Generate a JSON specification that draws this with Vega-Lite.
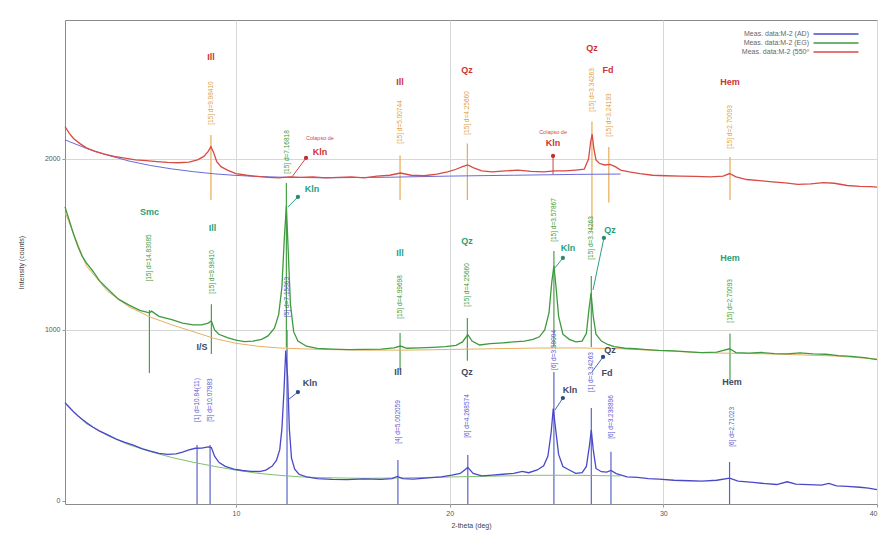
{
"$schema":"https://vega.github.io/schema/vega-lite/v6.json",
"width":812,"height":484,
"autosize":{"type":"none"},
"padding":{"left":65,"top":20,"right":11,"bottom":34},
"background":"white",
"config":{
 "view":{"stroke":"#8a8a8a","strokeWidth":1},
 "font":"Liberation Sans",
 "axis":{"labelFontSize":7,"labelColor":"#555","titleFontSize":7,"titleFontWeight":"normal","titleColor":"#444","domain":false,"tickColor":"#999","tickSize":3,"labelPadding":2}
},
"datasets":{
"curves":[
{"x":2,"y":575,"s":"AD"},{"x":2.2,"y":548,"s":"AD"},{"x":2.4,"y":522,"s":"AD"},{"x":2.6,"y":498,"s":"AD"},{"x":2.8,"y":478,"s":"AD"},{"x":3,"y":458,"s":"AD"},{"x":3.3,"y":432,"s":"AD"},{"x":3.6,"y":410,"s":"AD"},{"x":4,"y":386,"s":"AD"},{"x":4.4,"y":362,"s":"AD"},{"x":4.8,"y":343,"s":"AD"},{"x":5.2,"y":326,"s":"AD"},{"x":5.6,"y":306,"s":"AD"},{"x":6,"y":292,"s":"AD"},{"x":6.4,"y":278,"s":"AD"},{"x":6.8,"y":272,"s":"AD"},{"x":7.2,"y":275,"s":"AD"},{"x":7.5,"y":286,"s":"AD"},{"x":7.8,"y":298,"s":"AD"},{"x":8.1,"y":308,"s":"AD"},{"x":8.4,"y":309,"s":"AD"},{"x":8.7,"y":316,"s":"AD"},{"x":8.85,"y":312,"s":"AD"},{"x":9,"y":262,"s":"AD"},{"x":9.2,"y":226,"s":"AD"},{"x":9.5,"y":202,"s":"AD"},{"x":9.9,"y":186,"s":"AD"},{"x":10.3,"y":178,"s":"AD"},{"x":10.7,"y":173,"s":"AD"},{"x":11.1,"y":172,"s":"AD"},{"x":11.4,"y":180,"s":"AD"},{"x":11.7,"y":204,"s":"AD"},{"x":11.9,"y":238,"s":"AD"},{"x":12.05,"y":300,"s":"AD"},{"x":12.15,"y":420,"s":"AD"},{"x":12.25,"y":650,"s":"AD"},{"x":12.33,"y":880,"s":"AD"},{"x":12.42,"y":720,"s":"AD"},{"x":12.5,"y":420,"s":"AD"},{"x":12.6,"y":250,"s":"AD"},{"x":12.75,"y":186,"s":"AD"},{"x":12.95,"y":156,"s":"AD"},{"x":13.3,"y":141,"s":"AD"},{"x":13.8,"y":131,"s":"AD"},{"x":14.5,"y":126,"s":"AD"},{"x":15.2,"y":125,"s":"AD"},{"x":16,"y":129,"s":"AD"},{"x":16.8,"y":126,"s":"AD"},{"x":17.3,"y":131,"s":"AD"},{"x":17.55,"y":143,"s":"AD"},{"x":17.8,"y":131,"s":"AD"},{"x":18.3,"y":128,"s":"AD"},{"x":19,"y":135,"s":"AD"},{"x":19.6,"y":141,"s":"AD"},{"x":20.1,"y":151,"s":"AD"},{"x":20.5,"y":161,"s":"AD"},{"x":20.85,"y":196,"s":"AD"},{"x":21.1,"y":161,"s":"AD"},{"x":21.5,"y":146,"s":"AD"},{"x":22,"y":151,"s":"AD"},{"x":22.5,"y":156,"s":"AD"},{"x":23,"y":161,"s":"AD"},{"x":23.4,"y":173,"s":"AD"},{"x":23.7,"y":165,"s":"AD"},{"x":24.1,"y":181,"s":"AD"},{"x":24.4,"y":206,"s":"AD"},{"x":24.6,"y":262,"s":"AD"},{"x":24.75,"y":400,"s":"AD"},{"x":24.85,"y":540,"s":"AD"},{"x":24.95,"y":432,"s":"AD"},{"x":25.1,"y":272,"s":"AD"},{"x":25.3,"y":201,"s":"AD"},{"x":25.6,"y":181,"s":"AD"},{"x":25.9,"y":161,"s":"AD"},{"x":26.2,"y":166,"s":"AD"},{"x":26.4,"y":202,"s":"AD"},{"x":26.55,"y":330,"s":"AD"},{"x":26.63,"y":415,"s":"AD"},{"x":26.72,"y":300,"s":"AD"},{"x":26.85,"y":190,"s":"AD"},{"x":27.1,"y":171,"s":"AD"},{"x":27.35,"y":168,"s":"AD"},{"x":27.55,"y":178,"s":"AD"},{"x":27.8,"y":160,"s":"AD"},{"x":28.3,"y":141,"s":"AD"},{"x":28.8,"y":138,"s":"AD"},{"x":29.3,"y":131,"s":"AD"},{"x":29.8,"y":128,"s":"AD"},{"x":30.5,"y":121,"s":"AD"},{"x":31.2,"y":118,"s":"AD"},{"x":31.8,"y":116,"s":"AD"},{"x":32.5,"y":121,"s":"AD"},{"x":33.1,"y":133,"s":"AD"},{"x":33.5,"y":116,"s":"AD"},{"x":34.2,"y":108,"s":"AD"},{"x":34.8,"y":101,"s":"AD"},{"x":35.3,"y":96,"s":"AD"},{"x":35.8,"y":112,"s":"AD"},{"x":36.2,"y":98,"s":"AD"},{"x":36.8,"y":95,"s":"AD"},{"x":37.4,"y":92,"s":"AD"},{"x":37.75,"y":103,"s":"AD"},{"x":38.1,"y":88,"s":"AD"},{"x":38.6,"y":85,"s":"AD"},{"x":39.2,"y":80,"s":"AD"},{"x":39.6,"y":75,"s":"AD"},{"x":40,"y":66,"s":"AD"},
{"x":2,"y":1720,"s":"EG"},{"x":2.2,"y":1640,"s":"EG"},{"x":2.4,"y":1560,"s":"EG"},{"x":2.6,"y":1490,"s":"EG"},{"x":2.8,"y":1432,"s":"EG"},{"x":3,"y":1392,"s":"EG"},{"x":3.3,"y":1345,"s":"EG"},{"x":3.6,"y":1290,"s":"EG"},{"x":4,"y":1240,"s":"EG"},{"x":4.5,"y":1180,"s":"EG"},{"x":5,"y":1145,"s":"EG"},{"x":5.5,"y":1115,"s":"EG"},{"x":5.95,"y":1100,"s":"EG"},{"x":6.05,"y":1110,"s":"EG"},{"x":6.4,"y":1080,"s":"EG"},{"x":7,"y":1060,"s":"EG"},{"x":7.5,"y":1040,"s":"EG"},{"x":8,"y":1030,"s":"EG"},{"x":8.4,"y":1030,"s":"EG"},{"x":8.7,"y":1040,"s":"EG"},{"x":8.85,"y":1052,"s":"EG"},{"x":9,"y":1000,"s":"EG"},{"x":9.2,"y":975,"s":"EG"},{"x":9.6,"y":955,"s":"EG"},{"x":10,"y":940,"s":"EG"},{"x":10.4,"y":932,"s":"EG"},{"x":10.8,"y":935,"s":"EG"},{"x":11.2,"y":945,"s":"EG"},{"x":11.5,"y":965,"s":"EG"},{"x":11.8,"y":1010,"s":"EG"},{"x":12,"y":1090,"s":"EG"},{"x":12.15,"y":1250,"s":"EG"},{"x":12.27,"y":1550,"s":"EG"},{"x":12.36,"y":1725,"s":"EG"},{"x":12.45,"y":1450,"s":"EG"},{"x":12.55,"y":1150,"s":"EG"},{"x":12.7,"y":990,"s":"EG"},{"x":12.9,"y":935,"s":"EG"},{"x":13.3,"y":905,"s":"EG"},{"x":13.8,"y":892,"s":"EG"},{"x":14.5,"y":888,"s":"EG"},{"x":15.3,"y":885,"s":"EG"},{"x":16,"y":887,"s":"EG"},{"x":16.8,"y":888,"s":"EG"},{"x":17.4,"y":895,"s":"EG"},{"x":17.7,"y":906,"s":"EG"},{"x":18,"y":893,"s":"EG"},{"x":18.6,"y":895,"s":"EG"},{"x":19.2,"y":898,"s":"EG"},{"x":19.8,"y":902,"s":"EG"},{"x":20.3,"y":910,"s":"EG"},{"x":20.6,"y":930,"s":"EG"},{"x":20.85,"y":972,"s":"EG"},{"x":21.05,"y":935,"s":"EG"},{"x":21.4,"y":912,"s":"EG"},{"x":21.9,"y":920,"s":"EG"},{"x":22.5,"y":925,"s":"EG"},{"x":23,"y":930,"s":"EG"},{"x":23.5,"y":935,"s":"EG"},{"x":23.9,"y":945,"s":"EG"},{"x":24.2,"y":960,"s":"EG"},{"x":24.45,"y":1000,"s":"EG"},{"x":24.65,"y":1100,"s":"EG"},{"x":24.78,"y":1280,"s":"EG"},{"x":24.88,"y":1375,"s":"EG"},{"x":24.98,"y":1250,"s":"EG"},{"x":25.1,"y":1080,"s":"EG"},{"x":25.3,"y":975,"s":"EG"},{"x":25.6,"y":945,"s":"EG"},{"x":25.9,"y":930,"s":"EG"},{"x":26.2,"y":935,"s":"EG"},{"x":26.4,"y":980,"s":"EG"},{"x":26.52,"y":1120,"s":"EG"},{"x":26.62,"y":1215,"s":"EG"},{"x":26.72,"y":1080,"s":"EG"},{"x":26.85,"y":975,"s":"EG"},{"x":27.1,"y":935,"s":"EG"},{"x":27.4,"y":915,"s":"EG"},{"x":27.7,"y":903,"s":"EG"},{"x":28.2,"y":893,"s":"EG"},{"x":28.7,"y":890,"s":"EG"},{"x":29.2,"y":885,"s":"EG"},{"x":29.8,"y":880,"s":"EG"},{"x":30.5,"y":878,"s":"EG"},{"x":31.2,"y":872,"s":"EG"},{"x":31.8,"y":868,"s":"EG"},{"x":32.5,"y":870,"s":"EG"},{"x":33.1,"y":890,"s":"EG"},{"x":33.4,"y":868,"s":"EG"},{"x":34,"y":865,"s":"EG"},{"x":34.6,"y":868,"s":"EG"},{"x":35.2,"y":862,"s":"EG"},{"x":35.8,"y":860,"s":"EG"},{"x":36.4,"y":866,"s":"EG"},{"x":37,"y":860,"s":"EG"},{"x":37.6,"y":858,"s":"EG"},{"x":38.2,"y":850,"s":"EG"},{"x":38.8,"y":845,"s":"EG"},{"x":39.4,"y":838,"s":"EG"},{"x":40,"y":826,"s":"EG"},
{"x":2,"y":2190,"s":"550"},{"x":2.2,"y":2150,"s":"550"},{"x":2.4,"y":2120,"s":"550"},{"x":2.7,"y":2090,"s":"550"},{"x":3,"y":2065,"s":"550"},{"x":3.4,"y":2045,"s":"550"},{"x":3.8,"y":2030,"s":"550"},{"x":4.3,"y":2015,"s":"550"},{"x":4.8,"y":2005,"s":"550"},{"x":5.3,"y":1995,"s":"550"},{"x":5.8,"y":1990,"s":"550"},{"x":6.3,"y":1985,"s":"550"},{"x":6.8,"y":1980,"s":"550"},{"x":7.3,"y":1978,"s":"550"},{"x":7.8,"y":1982,"s":"550"},{"x":8.2,"y":1995,"s":"550"},{"x":8.5,"y":2015,"s":"550"},{"x":8.7,"y":2045,"s":"550"},{"x":8.83,"y":2072,"s":"550"},{"x":8.95,"y":2040,"s":"550"},{"x":9.1,"y":1985,"s":"550"},{"x":9.3,"y":1955,"s":"550"},{"x":9.6,"y":1935,"s":"550"},{"x":10,"y":1915,"s":"550"},{"x":10.5,"y":1905,"s":"550"},{"x":11,"y":1898,"s":"550"},{"x":11.5,"y":1892,"s":"550"},{"x":12,"y":1890,"s":"550"},{"x":12.5,"y":1895,"s":"550"},{"x":13,"y":1892,"s":"550"},{"x":13.6,"y":1895,"s":"550"},{"x":14.2,"y":1890,"s":"550"},{"x":14.8,"y":1893,"s":"550"},{"x":15.4,"y":1895,"s":"550"},{"x":16,"y":1890,"s":"550"},{"x":16.6,"y":1900,"s":"550"},{"x":17.2,"y":1905,"s":"550"},{"x":17.7,"y":1918,"s":"550"},{"x":18.2,"y":1905,"s":"550"},{"x":18.8,"y":1902,"s":"550"},{"x":19.4,"y":1912,"s":"550"},{"x":19.9,"y":1925,"s":"550"},{"x":20.3,"y":1940,"s":"550"},{"x":20.6,"y":1955,"s":"550"},{"x":20.85,"y":1965,"s":"550"},{"x":21.1,"y":1950,"s":"550"},{"x":21.5,"y":1930,"s":"550"},{"x":22,"y":1925,"s":"550"},{"x":22.6,"y":1930,"s":"550"},{"x":23.2,"y":1935,"s":"550"},{"x":23.8,"y":1928,"s":"550"},{"x":24.4,"y":1925,"s":"550"},{"x":24.9,"y":1930,"s":"550"},{"x":25.4,"y":1930,"s":"550"},{"x":25.9,"y":1935,"s":"550"},{"x":26.3,"y":1940,"s":"550"},{"x":26.5,"y":2000,"s":"550"},{"x":26.6,"y":2100,"s":"550"},{"x":26.67,"y":2145,"s":"550"},{"x":26.75,"y":2060,"s":"550"},{"x":26.85,"y":1995,"s":"550"},{"x":27,"y":1975,"s":"550"},{"x":27.25,"y":1965,"s":"550"},{"x":27.5,"y":1968,"s":"550"},{"x":27.75,"y":1955,"s":"550"},{"x":28,"y":1935,"s":"550"},{"x":28.4,"y":1925,"s":"550"},{"x":28.9,"y":1915,"s":"550"},{"x":29.5,"y":1905,"s":"550"},{"x":30.1,"y":1902,"s":"550"},{"x":30.8,"y":1900,"s":"550"},{"x":31.5,"y":1898,"s":"550"},{"x":32.2,"y":1895,"s":"550"},{"x":32.8,"y":1900,"s":"550"},{"x":33.1,"y":1915,"s":"550"},{"x":33.4,"y":1895,"s":"550"},{"x":33.9,"y":1880,"s":"550"},{"x":34.5,"y":1873,"s":"550"},{"x":35.1,"y":1866,"s":"550"},{"x":35.7,"y":1860,"s":"550"},{"x":36.3,"y":1852,"s":"550"},{"x":36.9,"y":1855,"s":"550"},{"x":37.5,"y":1862,"s":"550"},{"x":38,"y":1858,"s":"550"},{"x":38.6,"y":1845,"s":"550"},{"x":39.2,"y":1840,"s":"550"},{"x":39.7,"y":1838,"s":"550"},{"x":40,"y":1835,"s":"550"}
],
"bg":[
{"x":2,"y":570,"s":"AD"},{"x":3,"y":452,"s":"AD"},{"x":4,"y":382,"s":"AD"},{"x":5,"y":328,"s":"AD"},{"x":6,"y":288,"s":"AD"},{"x":7,"y":254,"s":"AD"},{"x":8,"y":226,"s":"AD"},{"x":9,"y":202,"s":"AD"},{"x":10,"y":180,"s":"AD"},{"x":11,"y":162,"s":"AD"},{"x":12,"y":150,"s":"AD"},{"x":13,"y":141,"s":"AD"},{"x":14,"y":136,"s":"AD"},{"x":16,"y":132,"s":"AD"},{"x":18,"y":135,"s":"AD"},{"x":20,"y":140,"s":"AD"},{"x":22,"y":145,"s":"AD"},{"x":24,"y":150,"s":"AD"},{"x":26,"y":150,"s":"AD"},{"x":28,"y":146,"s":"AD"},
{"x":2,"y":1690,"s":"EG"},{"x":3,"y":1375,"s":"EG"},{"x":4,"y":1225,"s":"EG"},{"x":5,"y":1135,"s":"EG"},{"x":6,"y":1075,"s":"EG"},{"x":7,"y":1030,"s":"EG"},{"x":8,"y":990,"s":"EG"},{"x":9,"y":950,"s":"EG"},{"x":10,"y":922,"s":"EG"},{"x":11,"y":905,"s":"EG"},{"x":12,"y":895,"s":"EG"},{"x":13,"y":890,"s":"EG"},{"x":14,"y":886,"s":"EG"},{"x":16,"y":882,"s":"EG"},{"x":18,"y":882,"s":"EG"},{"x":20,"y":886,"s":"EG"},{"x":22,"y":890,"s":"EG"},{"x":24,"y":894,"s":"EG"},{"x":26,"y":895,"s":"EG"},{"x":28,"y":890,"s":"EG"},{"x":30,"y":878,"s":"EG"},{"x":32,"y":866,"s":"EG"},{"x":35,"y":860,"s":"EG"},{"x":38,"y":848,"s":"EG"},{"x":40,"y":830,"s":"EG"},
{"x":2,"y":2112,"s":"550"},{"x":3,"y":2062,"s":"550"},{"x":4,"y":2022,"s":"550"},{"x":5,"y":1988,"s":"550"},{"x":6,"y":1962,"s":"550"},{"x":7,"y":1942,"s":"550"},{"x":8,"y":1926,"s":"550"},{"x":9,"y":1913,"s":"550"},{"x":10,"y":1904,"s":"550"},{"x":11,"y":1898,"s":"550"},{"x":12,"y":1894,"s":"550"},{"x":14,"y":1890,"s":"550"},{"x":17,"y":1893,"s":"550"},{"x":20,"y":1900,"s":"550"},{"x":23,"y":1905,"s":"550"},{"x":26,"y":1910,"s":"550"},{"x":28,"y":1912,"s":"550"}
],
"sticks":[
{"x":8.18,"y":327,"y2":-18,"g":"AD"},{"x":8.79,"y":327,"y2":-18,"g":"AD"},{"x":12.39,"y":1000,"y2":-18,"g":"AD"},{"x":17.58,"y":240,"y2":-18,"g":"AD"},{"x":20.85,"y":269,"y2":-18,"g":"AD"},{"x":24.88,"y":754,"y2":-18,"g":"AD"},{"x":26.63,"y":544,"y2":-18,"g":"AD"},{"x":27.55,"y":287,"y2":-18,"g":"AD"},{"x":33.1,"y":228,"y2":-18,"g":"AD"},
{"x":5.95,"y":1117,"y2":748,"g":"EG"},{"x":8.85,"y":1150,"y2":860,"g":"EG"},{"x":12.36,"y":1860,"y2":900,"g":"EG"},{"x":17.68,"y":982,"y2":766,"g":"EG"},{"x":20.83,"y":1070,"y2":820,"g":"EG"},{"x":24.88,"y":1462,"y2":900,"g":"EG"},{"x":26.63,"y":1316,"y2":900,"g":"EG"},{"x":33.12,"y":980,"y2":708,"g":"EG"},
{"x":8.83,"y":2140,"y2":1760,"g":"550"},{"x":17.68,"y":2020,"y2":1760,"g":"550"},{"x":20.83,"y":2090,"y2":1760,"g":"550"},{"x":26.66,"y":2220,"y2":1585,"g":"550"},{"x":27.45,"y":2070,"y2":1745,"g":"550"},{"x":33.12,"y":2012,"y2":1760,"g":"550"}
],
"ptr":[
{"x":13.28,"y":2006,"x2":12.62,"y2":1895,"g":"550"},{"x":24.84,"y":2018,"x2":24.84,"y2":1910,"g":"550"},
{"x":12.9,"y":1778,"x2":12.43,"y2":1719,"g":"EG"},{"x":25.3,"y":1421,"x2":24.93,"y2":1363,"g":"EG"},{"x":27.22,"y":1538,"x2":26.71,"y2":1234,"g":"EG"},
{"x":12.9,"y":637,"x2":12.43,"y2":590,"g":"AD"},{"x":25.3,"y":602,"x2":24.93,"y2":532,"g":"AD"},{"x":27.18,"y":842,"x2":26.66,"y2":754,"g":"AD"}
],
"dlab":[
{"x":8.83,"y":2327,"t":"[15] d=9.98410","g":"550"},{"x":17.68,"y":2216,"t":"[15] d=5.00744","g":"550"},{"x":20.83,"y":2269,"t":"[15] d=4.25660","g":"550"},{"x":26.66,"y":2404,"t":"[15] d=3.34263","g":"550"},{"x":27.45,"y":2257,"t":"[15] d=3.24193","g":"550"},{"x":33.12,"y":2187,"t":"[15] d=2.70093","g":"550"},
{"x":5.95,"y":1421,"t":"[15] d=14.83085","g":"EG"},{"x":8.88,"y":1339,"t":"[15] d=9.98410","g":"EG"},{"x":12.39,"y":2041,"t":"[15] d=7.16818","g":"EG"},{"x":17.68,"y":1193,"t":"[15] d=4.99698","g":"EG"},{"x":20.81,"y":1263,"t":"[15] d=4.25660","g":"EG"},{"x":24.88,"y":1643,"t":"[15] d=3.57867","g":"EG"},{"x":26.63,"y":1538,"t":"[15] d=3.34263","g":"EG"},{"x":33.12,"y":1170,"t":"[15] d=2.70093","g":"EG"},
{"x":8.18,"y":590,"t":"[1] d=10.84(11)","g":"AD"},{"x":8.79,"y":590,"t":"[5] d=10.07983","g":"AD"},{"x":12.39,"y":1193,"t":"[5] d=7.15863","g":"AD"},{"x":17.58,"y":462,"t":"[4] d=5.002059","g":"AD"},{"x":20.81,"y":497,"t":"[6] d=4.268574","g":"AD"},{"x":24.88,"y":883,"t":"[6] d=3.58004","g":"AD"},{"x":26.63,"y":754,"t":"[1] d=3.34263","g":"AD"},{"x":27.55,"y":491,"t":"[6] d=3.238896","g":"AD"},{"x":33.2,"y":433,"t":"[6] d=2.71023","g":"AD"}
],
"mins":[
{"x":8.83,"y":2596,"t":"Ill","g":"550"},{"x":17.68,"y":2450,"t":"Ill","g":"550"},{"x":20.81,"y":2520,"t":"Qz","g":"550"},{"x":26.66,"y":2649,"t":"Qz","g":"550"},{"x":27.41,"y":2520,"t":"Fd","g":"550"},{"x":33.12,"y":2450,"t":"Hem","g":"550"},{"x":13.93,"y":2041,"t":"Kln","g":"550"},{"x":24.84,"y":2094,"t":"Kln","g":"550"},
{"x":5.95,"y":1690,"t":"Smc","g":"EG"},{"x":8.9,"y":1596,"t":"Ill","g":"EG"},{"x":13.56,"y":1825,"t":"Kln","g":"EG"},{"x":17.68,"y":1450,"t":"Ill","g":"EG"},{"x":20.81,"y":1520,"t":"Qz","g":"EG"},{"x":25.54,"y":1480,"t":"Kln","g":"EG"},{"x":27.5,"y":1585,"t":"Qz","g":"EG"},{"x":33.12,"y":1421,"t":"Hem","g":"EG"},
{"x":8.41,"y":901,"t":"I/S","g":"AD"},{"x":13.46,"y":690,"t":"Kln","g":"AD"},{"x":17.58,"y":754,"t":"Ill","g":"AD"},{"x":20.81,"y":754,"t":"Qz","g":"AD"},{"x":25.63,"y":649,"t":"Kln","g":"AD"},{"x":27.5,"y":883,"t":"Qz","g":"AD"},{"x":27.36,"y":749,"t":"Fd","g":"AD"},{"x":33.21,"y":696,"t":"Hem","g":"AD"}
],
"notes":[
{"x":13.93,"y":2123,"t":"Colapso de"},{"x":24.84,"y":2158,"t":"Colapso de"}
]
},
"encoding":{
 "x":{"field":"x","type":"quantitative","scale":{"domain":[2,40],"nice":false,"zero":false}},
 "y":{"field":"y","type":"quantitative","scale":{"domain":[-18,2813],"nice":false,"zero":false}}
},
"layer":[
{"data":{"name":"sticks"},"mark":{"type":"rule","strokeWidth":1.2},
 "encoding":{"x":{"field":"x","type":"quantitative","axis":{"values":[10,20,30,40],"title":"2-theta (deg)","grid":true,"gridColor":"#d8d8d8","titlePadding":5}},
  "y":{"field":"y","type":"quantitative","axis":{"values":[0,1000,2000],"format":"d","title":"Intensity (counts)","grid":true,"gridColor":{"condition":{"test":"datum.value === 0","value":"transparent"},"value":"#d8d8d8"},"titlePadding":20}},
  "y2":{"field":"y2"},
  "color":{"field":"g","type":"nominal","scale":{"domain":["AD","EG","550"],"range":["#5a64c8","#4aa04a","#e8aa55"]},"legend":null}}},
{"data":{"name":"bg"},"mark":{"type":"line","strokeWidth":1},
 "encoding":{"color":{"field":"s","type":"nominal","scale":{"domain":["AD","EG","550"],"range":["#80c070","#e8b060","#6a6ad8"]},"legend":null}}},
{"data":{"name":"curves"},"mark":{"type":"line","strokeWidth":1.3},
 "encoding":{"color":{"field":"s","type":"nominal","scale":{"domain":["AD","EG","550"],"range":["#4a48c8","#3e9a3e","#d84a44"]},
  "legend":{"title":null,"orient":"none","legendX":765,"legendY":8,"labelExpr":"datum.label == 'AD' ? 'Meas. data:M-2 (AD)' : datum.label == 'EG' ? 'Meas. data:M-2 (EG)' : 'Meas. data:M-2 (550º'","symbolType":"M-4.5,0H4.5","symbolSize":100,"symbolStrokeWidth":1.3,"labelFontSize":7,"labelColor":"#666","labelAlign":"right","labelOffset":-33,"rowPadding":0}}}},
{"data":{"name":"ptr"},"mark":{"type":"rule","strokeWidth":1},
 "encoding":{"x2":{"field":"x2"},"y2":{"field":"y2"},
  "color":{"field":"g","type":"nominal","scale":{"domain":["AD","EG","550"],"range":["#3a6aa8","#2aa080","#d04040"]},"legend":null}}},
{"data":{"name":"ptr"},"mark":{"type":"point","filled":true,"size":18,"opacity":1},
 "encoding":{"color":{"field":"g","type":"nominal","scale":{"domain":["AD","EG","550"],"range":["#2a4a80","#2a8a70","#c03030"]},"legend":null}}},
{"data":{"name":"dlab"},"mark":{"type":"text","angle":270,"fontSize":6.5,"align":"center","baseline":"middle"},
 "encoding":{"text":{"field":"t"},
  "color":{"field":"g","type":"nominal","scale":{"domain":["AD","EG","550"],"range":["#5a5ad0","#3a9a3a","#e0a040"]},"legend":null}}},
{"data":{"name":"mins"},"mark":{"type":"text","fontSize":9,"fontWeight":"bold","align":"center","baseline":"middle"},
 "encoding":{"text":{"field":"t"},
  "color":{"field":"g","type":"nominal","scale":{"domain":["AD","EG","550"],"range":["#3e4a66","#2aa07a","#cc3333"]},"legend":null}}},
{"data":{"name":"notes"},"mark":{"type":"text","fontSize":5.5,"align":"center","baseline":"middle","color":"#d04a4a"},
 "encoding":{"text":{"field":"t"}}}
],
"resolve":{"scale":{"color":"independent"}}
}
